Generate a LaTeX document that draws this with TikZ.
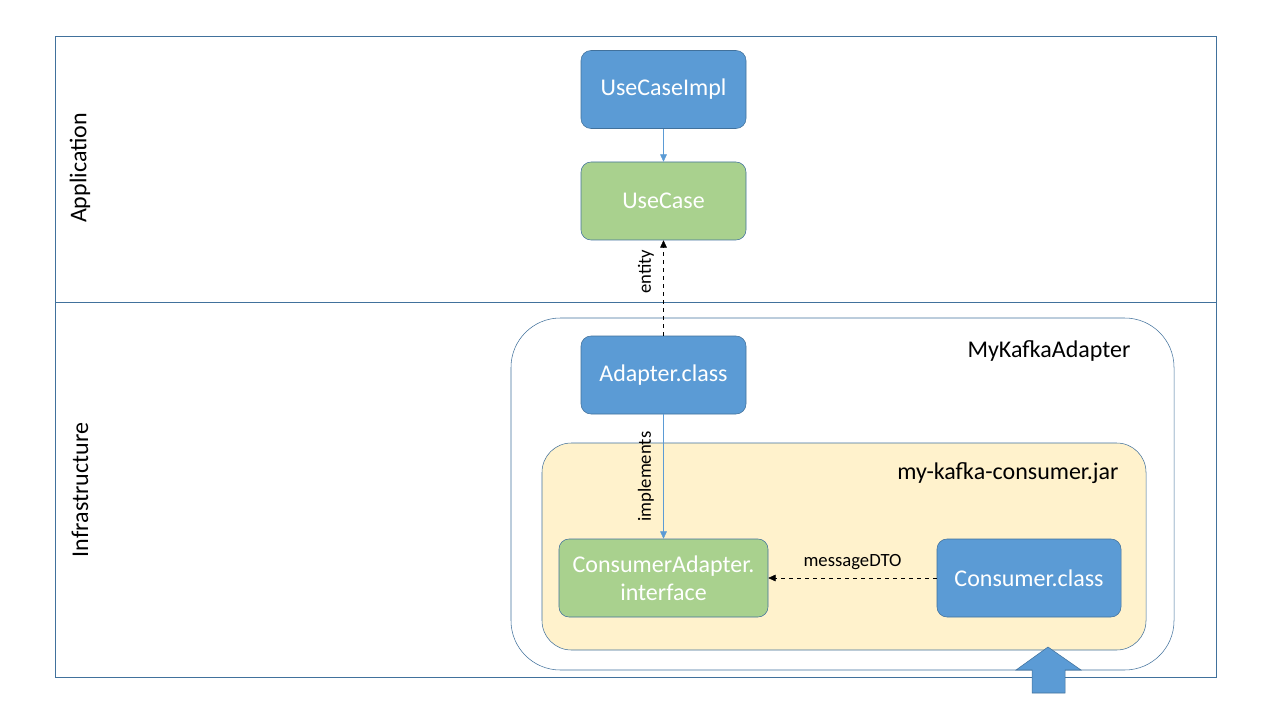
\documentclass[tikz,border=0pt]{standalone}
\usepackage{fontspec}
\setmainfont{Carlito}
\usetikzlibrary{arrows.meta}

\definecolor{boxblue}{HTML}{5B9BD5}
\definecolor{boxgreen}{HTML}{A9D18E}
\definecolor{boxedge}{HTML}{41719C}
\definecolor{jarfill}{HTML}{FFF2CC}

\def\bigtext{\fontsize{18}{21}\selectfont}
\def\smalltext{\fontsize{14}{17}\selectfont}

\begin{document}
\begin{tikzpicture}[x=0.75pt,y=-0.75pt,
  every text node part/.style={align=center},
  comp/.style={draw=boxedge,rounded corners=7.5pt,minimum width=123.75pt,minimum height=58.5pt,
    inner sep=0pt,text=white,font=\bigtext},
  tip/.style={-{Triangle[width=5pt,length=5.5pt]}},
  lbl/.style={text=black,font=\smalltext}]
  \useasboundingbox (0,0) rectangle (1280,720);

  % layers
  \draw[boxedge] (55,36) rectangle (1216,677);
  \draw[boxedge] (55,302) -- (1216,302);
  \node[rotate=90,font=\bigtext] (app) at (80,168) {Application};
  \node[rotate=90,font=\bigtext] (infra) at (80,490) {Infrastructure};

  % containers
  \node[draw=boxedge,fill=white,rounded corners=37pt,minimum width=497.25pt,minimum height=264pt] (adapter) at (842.5,494) {};
  \node[font=\bigtext] (adapterlbl) at (1049,351) {MyKafkaAdapter};
  \node[draw=boxedge,fill=jarfill,rounded corners=22pt,minimum width=453pt,minimum height=155.25pt] (jar) at (844,546.5) {};
  \node[font=\bigtext] (jarlbl) at (1008,473) {my-kafka-consumer.jar};

  % components
  \node[comp,fill=boxblue] (0) at (663.5,89.5) {UseCaseImpl};
  \node[comp,fill=boxgreen] (1) at (663.5,201) {UseCase};
  \node[comp,fill=boxblue] (2) at (663.5,375) {Adapter.class};
  \node[comp,fill=boxgreen,minimum width=156.75pt] (3) at (663.5,578) {ConsumerAdapter.\\interface};
  \node[comp,fill=boxblue,minimum width=138pt] (4) at (1029,578) {Consumer.class};

  \draw[tip,boxblue] (0) -- (1);
  \draw[tip,dashed] (2) -- (1) node [lbl,pos=0.67,rotate=90,anchor=south,inner sep=7pt] {entity};
  \draw[tip,boxblue] (2) -- (3) node [lbl,midway,rotate=90,anchor=south,inner sep=7pt] {implements};
  \draw[tip,dashed] (4) -- (3) node [lbl,midway,above,inner sep=6pt] {messageDTO};

  % incoming block arrow
  \draw[boxedge,fill=boxblue] (1048,647) -- (1081,670) -- (1065,670) -- (1065,693) -- (1032,693) -- (1032,670) -- (1016,670) -- cycle;
\end{tikzpicture}
\end{document}
